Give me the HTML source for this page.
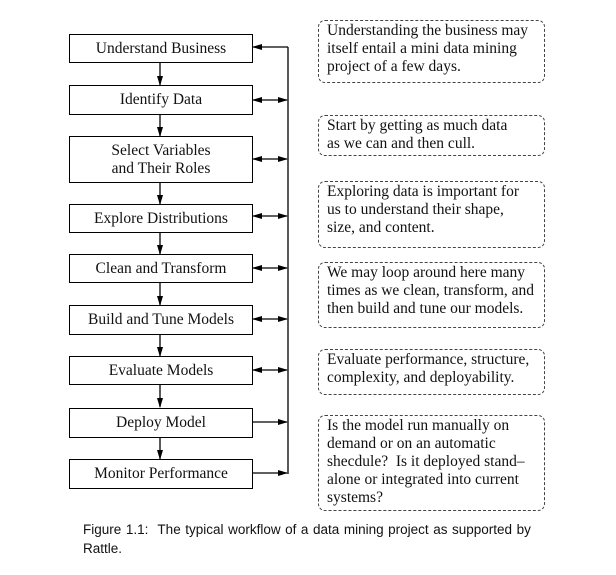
<!DOCTYPE html>
<html><head><style>
body{margin:0;background:#fff;width:616px;height:575px;overflow:hidden;position:relative}
.b{position:absolute;left:69px;width:182px;border:1.3px solid #000;font:15.5px "Liberation Serif",serif;text-align:center;display:flex;align-items:center;justify-content:center;line-height:18px;color:#111}
.n{position:absolute;left:318px;width:211px;border:1.2px dashed #444;border-radius:7px;font:15.5px "Liberation Serif",serif;line-height:18px;padding:1px 6px 1px 8px;color:#111;white-space:nowrap}
.cap{position:absolute;left:83px;top:520px;width:452px;font:13.5px "Liberation Sans",sans-serif;line-height:19px;color:#111;white-space:nowrap}
</style></head><body>
<svg width="616" height="575" style="position:absolute;left:0;top:0">
<defs><marker id="a" markerWidth="10" markerHeight="8" refX="9" refY="4" orient="auto-start-reverse" markerUnits="userSpaceOnUse"><path d="M0,1 L10,4 L0,7 z" fill="#000"/></marker></defs>
<g stroke="#000" stroke-width="1.3" fill="none">
<line x1="288" y1="47" x2="288" y2="474"/>
<line x1="288" y1="47" x2="253" y2="47" marker-end="url(#a)"/>
<g marker-end="url(#a)" marker-start="url(#a)">
<line x1="253" y1="100" x2="287" y2="100"/>
<line x1="253" y1="159" x2="287" y2="159"/>
<line x1="253" y1="216" x2="287" y2="216"/>
<line x1="253" y1="268" x2="287" y2="268"/>
<line x1="253" y1="319" x2="287" y2="319"/>
<line x1="253" y1="370" x2="287" y2="370"/>
</g>
<line x1="253" y1="422" x2="287" y2="422" marker-end="url(#a)"/>
<line x1="253" y1="473" x2="287" y2="473" marker-end="url(#a)"/>
<g marker-end="url(#a)">
<line x1="160" y1="63" x2="160" y2="85"/>
<line x1="160" y1="115" x2="160" y2="136"/>
<line x1="160" y1="183" x2="160" y2="204"/>
<line x1="160" y1="233" x2="160" y2="254"/>
<line x1="160" y1="283" x2="160" y2="305"/>
<line x1="160" y1="335" x2="160" y2="356"/>
<line x1="160" y1="385" x2="160" y2="407"/>
<line x1="160" y1="437" x2="160" y2="459"/>
</g></g></svg>
<div class="b" style="top:34px;height:27px">Understand Business</div>
<div class="b" style="top:85px;height:28px">Identify Data</div>
<div class="b" style="top:136px;height:45px">Select Variables<br>and Their Roles</div>
<div class="b" style="top:204px;height:27px">Explore Distributions</div>
<div class="b" style="top:254px;height:27px">Clean and Transform</div>
<div class="b" style="top:305px;height:28px">Build and Tune Models</div>
<div class="b" style="top:356px;height:27px">Evaluate Models</div>
<div class="b" style="top:408px;height:28px">Deploy Model</div>
<div class="b" style="top:459px;height:28px">Monitor Performance</div>
<div class="n" style="top:20px;height:59px">Understanding the business may<br>itself entail a mini data mining<br>project of a few days.</div>
<div class="n" style="top:115px;height:37px">Start by getting as much data<br>as we can and then cull.</div>
<div class="n" style="top:181px;height:63px">Exploring data is important for<br>us to understand their shape,<br>size, and content.</div>
<div class="n" style="top:262px;height:62px">We may loop around here many<br>times as we clean, transform, and<br>then build and tune our models.</div>
<div class="n" style="top:349px;height:42px">Evaluate performance, structure,<br>complexity, and deployability.</div>
<div class="n" style="top:415px;height:92px">Is the model run manually on<br>demand or on an automatic<br>shecdule? &nbsp;Is it deployed stand–<br>alone or integrated into current<br>systems?</div>
<div class="cap"><span style="word-spacing:0.8px">Figure 1.1: &nbsp;The typical workflow of a data mining project as supported by</span><br>Rattle.</div>
</body></html>
